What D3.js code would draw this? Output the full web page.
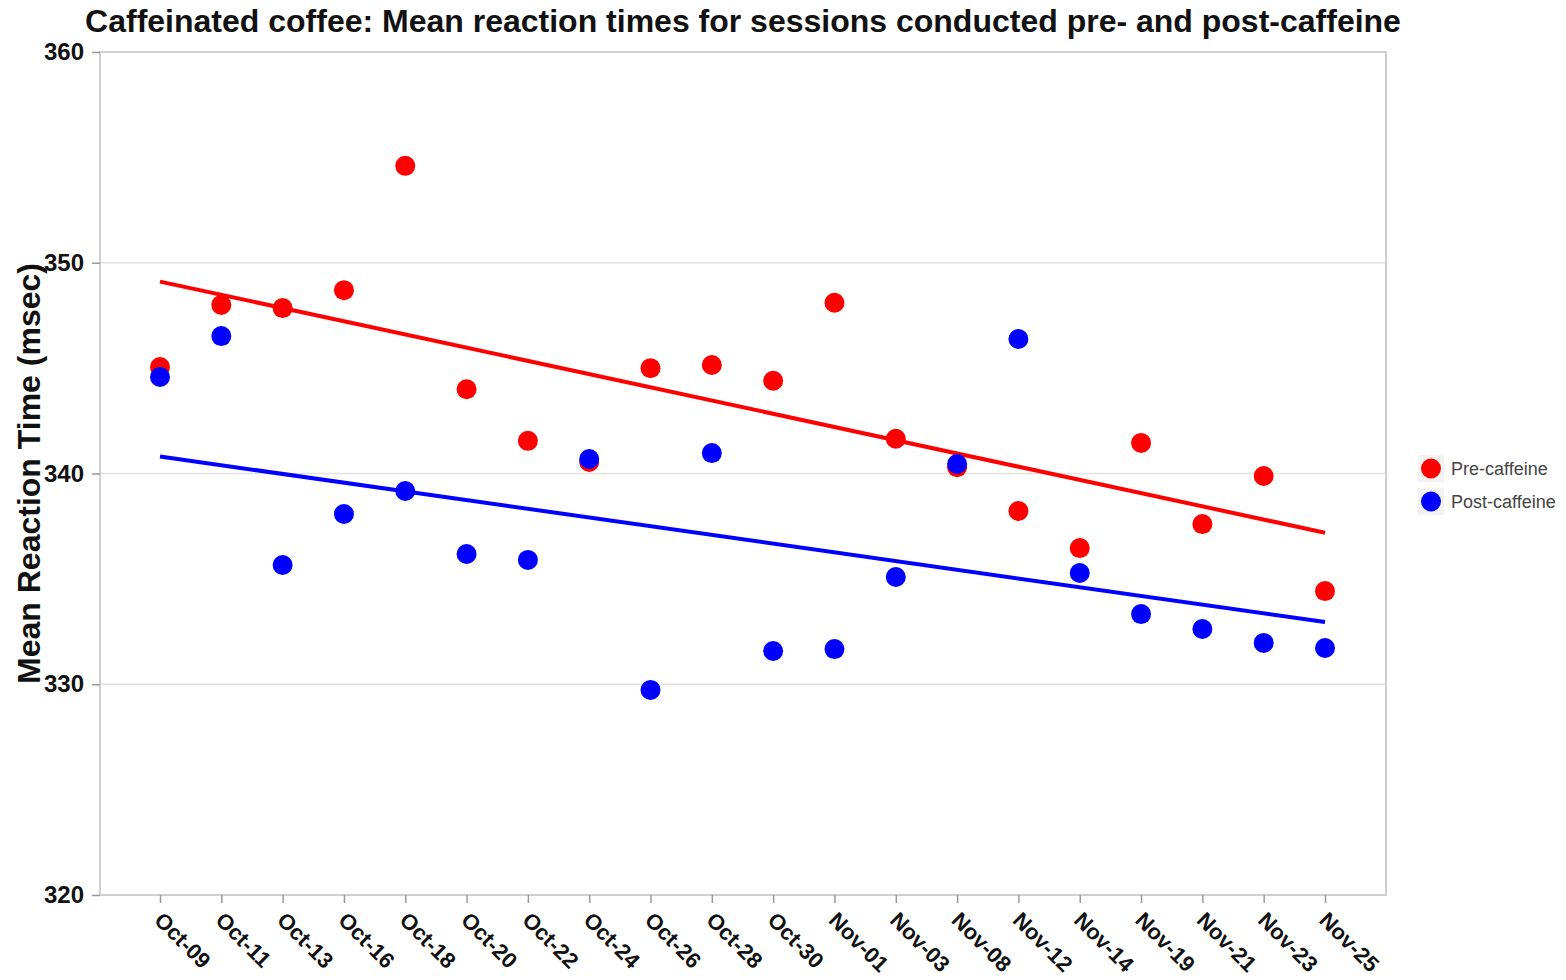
<!DOCTYPE html>
<head>
  <meta charset="utf-8">
  <script src="https://d3js.org/d3.v7.min.js"></script>
  <style>
    body { margin:0; background:#fff; }
    text { font-family: Arial, "Liberation Sans", sans-serif; }
  </style>
</head>
<body>
<script>
  var width = 1566, height = 980;

  // sessions and values
  var dates = ["Oct-09","Oct-11","Oct-13","Oct-16","Oct-18","Oct-20","Oct-22","Oct-24","Oct-26","Oct-28",
               "Oct-30","Nov-01","Nov-03","Nov-08","Nov-12","Nov-14","Nov-19","Nov-21","Nov-23","Nov-25"];
  var preCaffeine = [345.05, 348.0, 347.85, 348.7, 354.6, 344.0, 341.55, 340.55, 345.0, 345.15,
                     344.4, 348.1, 341.65, 340.3, 338.22, 336.46, 341.45, 337.6, 339.88, 334.42];
  var postCaffeine = [344.58, 346.52, 335.66, 338.08, 339.17, 336.18, 335.9, 340.69, 329.73, 340.97,
                      331.58, 331.67, 335.09, 340.45, 346.38, 335.28, 333.33, 332.62, 331.96, 331.72];
  var yTicks = [320, 330, 340, 350, 360];
  var seriesNames = ["Pre-caffeine", "Post-caffeine"];
  var seriesColors = ["#ff0000", "#0000ff"];

  var margin = {top: 52, right: 180, bottom: 85, left: 100};
  var innerW = 1386 - margin.left, innerH = 895 - margin.top;

  var svg = d3.select("body").append("svg")
    .attr("width", width)
    .attr("height", height);

  var g = svg.append("g").attr("transform", "translate(" + margin.left + "," + margin.top + ")");

  var x = d3.scalePoint().domain(dates).range([60, 1225]);
  var y = d3.scaleLinear().domain([320, 360]).range([innerH, 0]);

  // grid
  g.selectAll(".grid").data(yTicks.slice(1, -1)).enter().append("line")
    .attr("x1", 0).attr("x2", innerW)
    .attr("y1", function(d){ return y(d); }).attr("y2", function(d){ return y(d); })
    .attr("stroke", "#e2e2e2").attr("stroke-width", 1.5);

  // frame
  g.append("rect").attr("width", innerW).attr("height", innerH)
    .attr("fill", "none").attr("stroke", "#cfcfcf").attr("stroke-width", 2);

  // axes
  var yAxis = g.append("g").call(d3.axisLeft(y).tickValues(yTicks).tickSize(8).tickPadding(8));
  var xAxis = g.append("g").attr("transform", "translate(0," + innerH + ")")
    .call(d3.axisBottom(x).tickSize(8).tickPadding(0));
  [yAxis, xAxis].forEach(function(a){
    a.select(".domain").remove();
    a.selectAll(".tick line").attr("stroke", "#999").attr("stroke-width", 1.5);
    a.selectAll("text").attr("fill", "#111").style("font-weight", "bold");
  });
  yAxis.selectAll("text").style("font-size", "24px");
  xAxis.selectAll("text")
    .style("font-size", "22px")
    .attr("text-anchor", "start")
    .attr("y", 0)
    .attr("dy", "0.35em")
    .attr("transform", "translate(-2,21) rotate(45)");

  // least-squares trend per series over session index
  function trend(vals) {
    var n = vals.length, xs = d3.range(n);
    var mx = d3.mean(xs), my = d3.mean(vals);
    var b = d3.sum(xs, function(i){ return (i - mx) * (vals[i] - my); }) /
            d3.sum(xs, function(i){ return (i - mx) * (i - mx); });
    var a = my - b * mx;
    return [[0, a], [n - 1, a + b * (n - 1)]];
  }

  var allSeries = [preCaffeine, postCaffeine];
  var line = d3.line()
    .x(function(d){ return x(dates[d[0]]); })
    .y(function(d){ return y(d[1]); });

  allSeries.forEach(function(vals, k) {
    g.append("path").datum(trend(vals))
      .attr("d", line).attr("fill", "none")
      .attr("stroke", seriesColors[k]).attr("stroke-width", 4);
  });

  allSeries.forEach(function(vals, k) {
    g.selectAll(".pt" + k).data(vals).enter().append("circle")
      .attr("cx", function(d, i){ return x(dates[i]); })
      .attr("cy", function(d){ return y(d); })
      .attr("r", 10)
      .attr("fill", seriesColors[k]);
  });

  // title
  svg.append("text").attr("x", 743).attr("y", 32)
    .attr("text-anchor", "middle")
    .style("font-size", "32px").style("font-weight", "bold").attr("fill", "#111")
    .text("Caffeinated coffee: Mean reaction times for sessions conducted pre- and post-caffeine");

  // y label
  svg.append("text")
    .attr("transform", "translate(40," + (margin.top + y(340)) + ") rotate(-90)")
    .attr("text-anchor", "middle")
    .style("font-size", "32px").style("font-weight", "bold").attr("fill", "#111")
    .text("Mean Reaction Time (msec)");

  // legend
  var legend = svg.append("g").attr("transform", "translate(1418,455)");
  seriesNames.forEach(function(name, k) {
    var row = legend.append("g").attr("transform", "translate(0," + (k * 33) + ")");
    row.append("rect").attr("width", 26).attr("height", 27).attr("fill", "#f2f2f2");
    row.append("circle").attr("cx", 13).attr("cy", 13.5).attr("r", 10).attr("fill", seriesColors[k]);
    row.append("text").attr("x", 33).attr("y", 20)
      .style("font-size", "18px").attr("fill", "#444").text(name);
  });
</script>
</body>
